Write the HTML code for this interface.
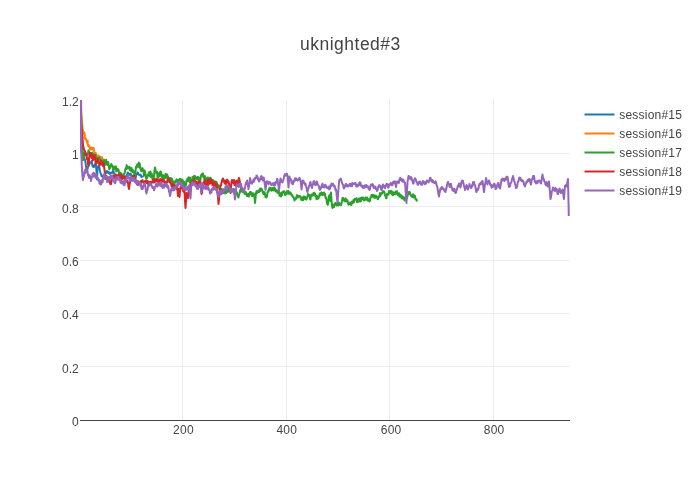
<!DOCTYPE html>
<html><head><meta charset="utf-8"><title>uknighted#3</title>
<style>
html,body{margin:0;padding:0;background:#fff;}
body{width:700px;height:500px;overflow:hidden;font-family:"Liberation Sans",sans-serif;}
svg{display:block;will-change:transform;}
text{font-family:"Liberation Sans",sans-serif;fill:#444;}
.g{fill:#eee;shape-rendering:crispEdges;}
.t{font-size:12px;}
.l{fill:none;stroke-width:2;stroke-linejoin:round;stroke-linecap:butt;}
</style></head><body>
<svg width="700" height="500" viewBox="0 0 700 500">
<rect width="700" height="500" fill="#fff"/>
<defs><clipPath id="cp"><rect x="80" y="100" width="490" height="320"/></clipPath></defs>
<!-- gridlines -->
<g class="g">
<rect x="182" y="100" width="1" height="320"/>
<rect x="286" y="100" width="1" height="320"/>
<rect x="389" y="100" width="1" height="320"/>
<rect x="493" y="100" width="1" height="320"/>
<rect x="80" y="153" width="490" height="1"/>
<rect x="80" y="206" width="490" height="1"/>
<rect x="80" y="260" width="490" height="1"/>
<rect x="80" y="313" width="490" height="1"/>
<rect x="80" y="366" width="490" height="1"/>
</g>
<!-- zero line -->
<rect x="80" y="420" width="490" height="1" fill="#444" shape-rendering="crispEdges"/>
<!-- traces -->
<g id="traces" clip-path="url(#cp)">
<!--TRACES-->
<path class="l" stroke="#1f77b4" d="M80.4,60L81.3,150L82.5,160L83,159.67L83.5,157.44L84,157.5L84.5,159.47L85,160L85.5,162.6L86,166L86.5,167.98L87,169.5L87.5,169.15L88,167L88.6,165.5L89.05,163.91L89.5,164L90,162.6L90.5,162.5L91,162.27L91.5,161L92,163.05L92.5,166L92.9,166.1L93.3,167L93.9,166.91L94.5,165L94.93,164.17L95.37,164.72L95.8,164L96.5,171L97,179.5L97.6,167L98.07,167.27L98.53,165.84L99,166L99.5,168.26L100,171L100.5,172.76L101,174L101.5,176.05L102,176.5L102.5,176.06L103,177L103.5,175.38L104,175.5L104.43,175.24L104.87,173.44L105.3,173.5L105.8,173.58L106.3,172L106.8,170.98L107.3,171.5L107.75,172.74L108.2,173L108.6,171.97L109,172.5L109.5,173.84L110,174L110.5,173.32L111,172.6L111.5,173L111.9,173.17L112.3,172.5L113,170.5L113.4,170.83L113.8,172.5L114.5,174L115,175.34L115.5,175.1L116,176.5L116.5,176.82L117,175.44L117.5,175.41L118,175.5L118.6,176.03L119.2,175L119.6,173.5L120,173L120.5,173.7L121,175.5L121.6,174L122.05,176.34L122.5,178L123,176.96L123.5,176.79L124,177L124.5,177.45L125,176.32L125.5,177.37L126,176.5L126.6,175.91L127.2,174L127.6,172.55L128,172.5L128.5,174.42L129,175L129.5,173.95L130,174.32L130.5,173.5L131,174.72L131.5,176.5L132,176.23L132.5,177L133,177.2L133.5,176.5L134,176.47L134.5,178.06L135,177.7L135.5,178.5L136,176.07L136.5,174L137,173.91L137.5,172.5L138,172.87L138.5,174.5L139.2,175L139.75,175.15L140.3,174.5L140.8,175.18L141.3,177L141.75,176.46L142.2,176.5L142.6,176.4L143,177.5"/>
<path class="l" stroke="#ff7f0e" d="M80.5,60L81.25,113L82.2,124.5L82.8,130L83.5,133L83.9,133.87L84.3,132.5L84.9,135.5L84.4,138L84.85,138.01L85.3,139L85.75,138.23L86.2,139.5L86.8,142L87.3,142.39L87.8,141L87.4,144L87.8,144.15L88.2,146L88.7,146.57L89.2,145.5L89.8,148L90.3,149.46L90.8,149.5L91.3,147.61L91.8,147.5L92.3,149.53L92.8,149.5L93.2,148.05L93.6,148L94.3,151.5L95,153.5L95.4,153.69L95.8,153L96.2,154.85L96.6,156L97.05,156.11L97.5,157.5L97.9,157.23L98.3,155.5L99,157.5L99.5,156.46L100,156.5L100.5,156.91L101,158.5L101.5,157.3L102,157.5L102.5,159.54L103,160L103.5,160.66L104,159.5L104.5,161"/>
<path class="l" stroke="#2ca02c" d="M80.4,60L81.2,130L82.2,148L82.8,160L83.5,158L84,155.62L84.5,152L85,151.25L85.5,155.09L86,154L86.4,155.91L86.8,156L87.4,153.27L88,153L88.5,150.31L89,152L89.5,155.3L90,152.97L90.5,156L91,153.32L91.5,155.53L92,153L92.5,152.63L93,153.86L93.5,157L94,157.72L94.5,157.92L95,155.5L95.5,154.95L96,159.54L96.5,159L97,157.86L97.5,160.69L98,159.5L98.5,157.75L99,158.78L99.5,157.91L100,160L100.5,163.02L101,159.98L101.5,162.8L101.97,164.35L102.43,160.68L102.9,162.6L103.43,164.73L103.95,160.21L104.47,164.69L105,162.6L105.53,164.77L106.05,159.77L106.57,164.13L107.1,161.8L107.6,164.96L108.1,162.08L108.6,164.4L109.3,169.4L109.77,165.91L110.23,168.13L110.7,165.8L111.25,163.99L111.8,165.4L112.35,165.23L112.9,167.9L113.37,169.8L113.83,169.05L114.3,166.8L114.85,169.02L115.4,167.2L115.87,166.29L116.33,171.56L116.8,171.2L117.27,169.53L117.73,168.85L118.2,170.4L118.67,170L119.13,173.88L119.6,172.9L120.1,174.5L120.6,172.72L121.1,174.7L121.7,177.96L122.3,175.26L122.9,177.9L123.37,177.41L123.83,174.25L124.3,173.7L124.77,173.01L125.23,169.35L125.7,168.3L126.17,169.07L126.63,165.12L127.1,166.9L127.7,168.55L128.3,168.36L128.9,166.9L129.4,166.68L129.9,170.05L130.4,169L130.87,170.96L131.33,167.67L131.8,169.7L132.27,172.03L132.73,169.79L133.2,171.2L133.8,171.2L134.4,175.94L135,176.5L135.55,170.68L136.1,166.5L136.7,167.38L137.3,164.22L137.9,165.1L138.37,166.86L138.83,162.49L139.3,165.1L139.77,163.8L140.23,168.73L140.7,167.9L141.17,171.28L141.63,170.9L142.1,170.1L142.6,168.22L143.1,170.47L143.6,171.8L144.07,175.57L144.53,170.29L145,172.1L145.6,174.38L146.2,178.8L146.8,178.6L147.4,176.6L148,174.63L148.6,174.3L149.07,172.29L149.53,175.92L150,173L150.5,171.6L151,176.89L151.5,173.5L152,174.25L152.5,179.28L153,176.13L153.5,178L154,176.44L154.5,170.64L155,167.5L155.5,169.42L156,172.82L156.5,172L157,171.87L157.5,177.22L158,177.65L158.5,175L159,173.14L159.5,176.42L160,172.69L160.5,171.48L161,172L161.5,175.91L162,177.65L162.5,177L163,175.08L163.5,180.12L164,176.11L164.5,176L165,178.02L165.5,174.03L166,177.67L166.5,174.5L167,174.28L167.5,178.83L168,176.3L168.5,180.79L169,179L169.5,181.65L170,177.95L170.5,178L171,182.61L171.5,178.55L172,178.87L172.5,182L173,183.67L173.5,181.47L174,185.28L174.5,184L175,181.14L175.5,181.82L176,181.21L176.5,179.33L177,181.5L177.5,182.72L178,179.91L178.5,183.15L179,181.5L179.5,179.1L180,182.14L180.5,179.1L181,180L181.5,182.73L182,179.8L182.5,179.83L183,182L183.5,185.33L184,181.64L184.5,186.76L185,186L185.5,182.89L186,185.24L186.5,180.45L187,181L187.5,178.46L188,180.93L188.5,177.38L189,178.5L189.5,181.8L190,177.51L190.5,182.23L191,181.5L191.5,179.5L192,182.11L192.5,176.94L193,178.5L193.5,180.09L194,176.03L194.5,177.69L195,176L195.5,178.47L196,177.6L196.5,179.04L197,177.89L197.5,177L198,176.89L198.5,181.36L199,177.83L199.5,181.5L200,181.15L200.5,179.62L201,175.92L201.5,174.4L202,174L202.5,175.74L203,173.36L203.5,177.26L204,176.5L204.5,178.76L205,176.11L205.5,180.68L206,180L206.5,178.42L207,180.99L207.5,177.39L208,181.83L208.5,181.68L209,177.67L209.5,181.24L210,179.5L210.5,177.74L211,179.4L211.5,183.27L212,181.5L212.5,180.02L213,182.91L213.5,180.58L214,183.28L214.5,182L215,184.29L215.5,181.47L216,184.69L216.5,181.88L217,184L217.5,185.96L218,187.06L218.5,185.12L219,187L219.5,189.08L220,187.42L220.5,190.77L221,190L221.5,188.84L222,192.62L222.5,189.5L223,193.32L223.5,189.85L224,192L224.5,193.29L225,192.82L225.5,189.79L226,193.26L226.5,192.25L227,191L227.5,189.43L228,191.9L228.5,188.36L229,189L229.5,190.71L230,188.29L230.5,189.57L231,191L231.5,191.91L232,189L232.5,191.06L233,190L233.5,189.19L234,192.04L234.5,189.59L235,192L235.5,193.66L236,193.59L236.5,191.85L237,193L237.5,195.4L238,196.92L238.5,197.5L239,194.52L239.5,193.71L240,191L240.5,189.27L241,191.54L241.5,188.43L242,190L242.5,191.84L243,192.3L243.5,189.95L244,192L244.5,193.63L245,193.96L245.5,191.81L246,193L246.5,195.07L247,195.98L247.5,195.91L248,193.99L248.5,196L249,196.46L249.5,192.91L250,192.18L250.5,192L251,194.58L251.5,192.44L252,196.04L252.5,196L253,193.62L253.5,193.36L254,194L254.5,197.7L255,203L255.5,198.55L256,193L256.5,191.26L257,193.33L257.5,190.94L258,192.25L258.5,191L259,192.2L259.5,189.26L260,188.6L260.5,191.04L261,189L261.5,188.61L262,189.82L262.5,190.68L263,193L263.5,194.21L264,191.9L264.5,192.12L265,194L265.5,196.96L266,194.98L266.5,197.5L267,196.05L267.5,192.42L268,191L268.5,191.69L269,189L269.5,187.72L270,189.99L270.5,187.91L271,189.5L271.5,190.73L272,188.38L272.5,190.03L273,187.72L273.5,190.44L274,189L274.5,187.78L275,188.39L275.5,191.29L276,190.01L276.5,191.5L277,190.42L277.5,193.09L278,190.75L278.5,192.5L279,191.57L279.5,195.76L280,193.2L280.5,195.5L281,196.5L281.5,192.57L282,195.19L282.5,193L283,191.65L283.5,191.18L284,191.5L284.5,191.59L285,195L285.5,194.5L286,192.68L286.5,194.32L287,191.06L287.5,192L288,193.18L288.5,190.97L289,193.89L289.5,193L290,192.23L290.5,193.51L291,193.28L291.5,195.5L292,194.76L292.5,195.54L293,197L293.5,196.99L294,198.57L294.5,200.5L295,198.58L295.5,199.3L296,198.73L296.5,196.5L297,195.12L297.5,195.57L298,197.64L298.5,197L299,196.15L299.5,196L300,195.96L300.5,197.5L301,198.87L301.5,200.03L302,197.4L302.5,199.5L303,200.26L303.5,196.49L304,196.5L304.5,198.88L305,196.89L305.5,197.27L306,199.5L306.5,199.51L307,197.52L307.5,196.29L308,194L308.5,196.04L309,194.78L309.5,195.95L310,199L310.5,199.49L311,194.99L311.5,194.56L312,194.5L312.5,195.77L313,194.55L313.5,193L314,192.89L314.5,195.6L315,193.5L315.5,196L316,195.29L316.5,199.31L317,198.5L317.5,196.26L318,198.69L318.5,198.59L319,196.5L319.5,194.6L320,193.23L320.5,195.39L321,193L321.5,192.4L322,192.82L322.5,195L323,192.92L323.5,194.81L324,192.5L324.5,194.74L325,193.57L325.5,197.94L326,197.5L326.5,199.39L327,203L327.5,204.85L328,204.5L328.7,197.5L329.1,195.85L329.5,195L329.9,198.89L330.3,201L331,192.5L331.7,203L332.1,206.18L332.5,208L333.2,204.5L333.6,206.16L334,207L334.5,204.75L335,203.5L335.5,202.85L336,204L336.5,205.5L337,205.23L337.5,203.4L338,204.5L338.5,205.36L339,202.44L339.5,203.5L340,204.82L340.5,204.42L341,205.13L341.5,203.5L342,201.13L342.5,198L343,197.89L343.5,200.49L344,200.5L344.5,199.28L345,201.4L345.5,198.19L346,199.5L346.5,201.48L347,200.03L347.5,200.48L348,203L348.5,204.79L349,204.65L349.5,203.5L350,202.47L350.5,203.39L351,205L351.5,204.81L352,201.47L352.5,202L353,202.94L353.5,200.04L354,202.32L354.5,200L355,198.63L355.5,198.7L356,199.5L356.5,198.25L357,202.19L357.5,201L358,199.35L358.5,201.82L359,198.48L359.5,200L360,201.52L360.5,197.92L361,201.07L361.5,199L362,197.45L362.5,198.93L363,197.5L363.5,199.76L364,200.5L364.5,198.58L365,200.02L365.5,197.59L366,198L366.5,199.61L367,197.45L367.5,199.5L368,200.84L368.5,199.32L369,200.1L369.5,201.5L370,200.62L370.5,197.35L371,197.19L371.5,195L372,196.57L372.5,194.7L373,196.5L373.5,197.46L374,195.13L374.5,196L375,198.03L375.5,195.61L376,197L376.5,196.06L377,197.46L377.5,199L378,199.31L378.5,197.78L379,196L379.5,196.95L380,192.95L380.5,195.92L381,193.5L381.5,193.93L382,193.7L382.5,192L383,191.05L383.5,192.5L384,191.5L384.5,192.63L385,195.34L385.5,195.99L386,198L386.5,198.25L387,193.94L387.5,194.5L388,194.75L388.5,194.56L389,190.97L389.5,191.5L390,193.08L390.5,191.09L391,190.82L391.5,192.5L392,194.59L392.5,191.79L393,195.24L393.5,194L394,192.44L394.5,194.17L395,194.35L395.5,192.5L396,191.3L396.5,193.86L397,191.27L397.5,193L398,195.28L398.5,195.07L399,193.32L399.5,196.63L400,195.5L400.5,194.6L401,195.14L401.5,198.26L402,197.5L402.5,196.25L403,198.84L403.5,197.12L404,198.5L404.5,200.46L405,197.57L405.5,197.52L406,199.5L406.5,197.19L407,198.24L407.5,196L408,192.9L408.5,194.41L409,192L409.5,191.8L410,192.66L410.5,194.5L411,195.69L411.5,196.2L412,196.93L412.5,196L413,194.23L413.5,197.37L414,196.66L414.5,195.5L415,196.03L415.5,199.42L416,199.5L416.5,199.18L417,201.5"/>
<path class="l" stroke="#d62728" d="M80.4,60L81.2,122L81.8,130L82.4,137L83,145L84,149.5L85,151.5L85.6,155L86.2,154L86.8,159L87.4,158L88,164L88.6,166L89.2,158L89.8,152.5L90.4,156L91,153.5L91.6,158L92.2,155L92.8,160.5L93.4,159L94,157L94.6,155L95.2,160L95.8,164L96.4,161L97,162.5L97.6,159L98.2,163L98.8,161.5L99.4,165.5L100,163.5L100.6,164.5L101.2,161L101.8,164.5L102.4,163L103,166L103.6,162.5L104.2,168L104.7,171L105.2,179L106.5,176L107,177.85L107.5,178.72L108,178L108.5,179.62L109,177.29L109.5,180L110,183.17L110.5,184.2L111,184L111.5,181.47L112,179.44L112.5,178L113,179.55L113.5,175.49L114,177L114.5,175.66L115,178.49L115.5,174.71L116,176.5L116.5,174.68L117,177.44L117.5,177.14L118,175.5L118.5,177.57L119,174.28L119.5,177.78L120,176L120.5,174.76L121,178.66L121.5,176.36L122,178.5L122.5,179.11L123,176L123.5,176.53L124,177L124.5,178.61L125,176.67L125.5,180.45L126,179L126.5,180.92L127,181.84L127.5,181L128,183.08L128.5,186.9L129,189L129.5,185.1L130,182.58L130.5,180L131,177.37L131.5,179.03L132,177L132.5,175.88L133,177.47L133.5,176.5L134,175.62L134.5,179.82L135,178.36L135.5,180L136,182.82L136.5,180.8L137,184.43L137.5,182.94L138,185L138.5,182.78L139,181.85L139.5,182L140,182.76L140.5,182.11L141,181L141.5,182.83L142,180.46L142.5,179.96L143,182L143.5,182.69L144,182.28L144.5,182.7L145,181L145.5,182.13L146,180.77L146.5,182.97L147,182.5L147.5,181.05L148,184.42L148.5,181.79L149,183.58L149.5,181.95L150,183L150.5,184.28L151,181.67L151.5,183.05L152,182.74L152.5,181.5L153,180.46L153.5,179.44L154,182.63L154.5,179.07L155,180.5L155.5,181.76L156,178.8L156.5,178.84L157,179.5L157.5,181.62L158,179.47L158.5,182.51L159,181.5L159.5,179.48L160,181.85L160.5,179.04L161,179.5L161.5,181.53L162,181.92L162.5,179.27L163,181L163.5,180.01L164,180.54L164.5,183.54L165,184.72L165.5,184L166,181.58L166.5,182.89L167,182.6L167.5,181.55L168,179L168.5,181L169,178.41L169.5,182.11L170,181L170.5,183.38L171,183.5L171.5,186L172,187.13L172.5,184.98L173,184.21L173.5,185.5L174,187.38L174.5,184.82L175,187.55L175.5,186L176.1,185.86L176.7,189.14L177.3,188L178,196L178.7,189L179.1,193.77L179.5,197L180,191.06L180.5,187L181,188.43L181.5,185.34L182,186.71L182.5,188L183,190.86L183.5,187.99L184,192.24L184.5,191L185,200.59L185.5,208L186,201.19L186.5,193L187,193.88L187.5,196.94L188,198L188.5,192.37L189,188L189.5,185.25L190,187.84L190.5,182.89L191,184L191.5,182.23L192,185.31L192.5,181.43L193,183L193.5,181.29L194,184.15L194.5,179.57L195,182L195.5,184.71L196,181.37L196.5,185.38L197,182.39L197.5,186.91L198,185L198.5,182.57L199,181.42L199.5,185.39L200,183.84L200.5,182L201,189.22L201.5,194L202,192.62L202.5,187.64L203,186L203.5,184.89L204,182.54L204.5,179.5L205,181.06L205.5,184L206,185.3L206.5,182.2L207,183L207.5,180.23L208,185.15L208.5,179.98L209,182.5L209.5,180.08L210,183.78L210.5,179.05L211,181L211.5,183.03L212,180.31L212.5,185.34L213,184L213.5,182.55L214,185.99L214.5,181.83L215,184.5L215.5,186.71L216,187.36L216.5,183.68L217,187L217.5,193.53L218,197.13L218.5,204L219,199.54L219.5,194.02L220,188L220.5,185.23L221,185.5L221.5,183L222,180.46L222.5,179.41L223,178.5L223.5,181.33L224,180.48L224.5,183L225,183.72L225.5,180.57L226,184.01L226.5,181L227,179.81L227.5,179.7L228,182.71L228.5,181.5L229,183.29L229.5,188.56L230,189.17L230.5,193L231,186.64L231.5,181.5L232,179.92L232.5,180.33L233,183.03L233.5,181.5L234,180.06L234.5,185.12L235,181.28L235.5,184.5L236,185.71L236.5,180.78L237,184.12L237.5,181.5L238,183.54L238.5,179.58L239,177.91L239.5,180L240,182.84L240.5,184L241,185.28L241.5,189"/>
<path class="l" stroke="#9467bd" d="M80.4,60L80.8,100L81.2,150L82,170L82.5,176.17L83,180L83.5,176.19L84,176.26L84.5,171.88L85,170L85.5,173.17L86,167.91L86.5,171L87,170.02L87.5,170.9L88,175.17L88.5,175L89,177.82L89.5,174.96L90,176.12L90.5,177.64L91,181L91.5,178.11L92,177.06L92.5,174L93,176.84L93.5,172.68L94,176.35L94.5,174.5L95,173.59L95.5,177.69L96,176L96.5,174L97,178.64L97.5,178.79L98,178L98.5,180.9L99,179.7L99.5,183.7L100,183.5L100.5,181L101,184.62L101.5,180.79L102,180.18L102.5,182.5L103,178.92L103.5,178.02L104,175L104.5,173.94L105,177.01L105.5,177.77L106,177L106.5,176.97L107,181.86L107.5,179.26L108,182L108.5,181.21L109,178.1L109.5,177L110,179L110.5,175.73L111,177.72L111.5,176.5L112,175.55L112.5,179.69L113,177.4L113.5,180L114,181.89L114.5,182.05L115,183.4L115.5,182L116,179.59L116.5,177.2L117,179.74L117.5,177L118,179.34L118.5,176.66L119,179.79L119.5,178.44L120,180L120.5,182.63L121,183.06L121.5,180L122,183.38L122.5,181.82L123,183.5L123.5,184.66L124,181.03L124.5,185.31L125,183L125.5,180.35L126,182.26L126.5,178.22L127,178.5L127.5,176.07L128,175L128.5,177.73L129,177.58L129.5,180L130,180.78L130.5,177.73L131,180.72L131.5,177.35L132,179L132.5,180.9L133,178.09L133.5,180.81L134,177.98L134.5,180L135,181.88L135.5,179.67L136,182L136.5,183.02L137,181.18L137.5,183.91L138,181.03L138.5,184.1L139,183L139.5,181.76L140,184L140.5,186.26L141,184.11L141.5,189.02L142,186.55L142.5,189L143,188.01L143.5,185.02L144,185.33L144.5,183L145,184.78L145.5,187.37L146,191.68L146.5,193.5L147,190.6L147.5,190.03L148,186.71L148.5,185L149,183.55L149.5,185.81L150,183.08L150.5,184.5L151,184.02L151.5,185.39L152,185.96L152.5,188L153,187.23L153.5,187.16L154,190.26L154.5,189L155,186.8L155.5,186.06L156,184L156.5,183.73L157,186.58L157.5,186.5L158,184.69L158.5,183.81L159,183.29L159.5,185.55L160,183.5L160.5,182.28L161,186.21L161.5,183.81L162,184.05L162.5,187.87L163,186.5L163.5,184.74L164,187.69L164.5,186.49L165,183.84L165.5,185L166,183.72L166.5,186.59L167,184.58L167.5,187.66L168,186L168.5,187.58L169,191.71L169.5,192.57L170,196L170.5,194.11L171,190.07L171.5,188.5L172,189.87L172.5,188.21L173,190.64L173.5,188.08L174,190L174.5,189.76L175,186.95L175.5,188.62L176,187.04L176.5,185L177,186.59L177.5,183.08L178,185.71L178.5,184L179,182.06L179.5,181.67L180,184.2L180.5,182.5L181,182.6L181.5,186.08L182,186L182.5,184.95L183,187.77L183.5,186.27L184,189.71L184.5,188.5L185,187.88L185.5,189.95L186,187.37L186.5,189L187,189.65L187.5,186.65L188,188.86L188.5,187.65L189,186L189.5,189.77L190,195.07L190.5,198.5L191,190.23L191.5,183L192,184.91L192.5,184.64L193,182.34L193.5,184.69L194,184L194.5,182.65L195,183.53L195.5,186.32L196,185L196.5,185.25L197,188.77L197.5,186.53L198,189L198.5,186.13L199,185.09L199.5,186.73L200,184L200.5,187.18L201,188.9L201.5,192L202,188.08L202.5,183L203,185.52L203.5,187.08L204,188.5L204.5,187.34L205,186.43L205.5,189.02L206,187L206.5,188.37L207,186.05L207.5,189.31L208,187.03L208.5,188L209,190.24L209.5,189.51L210,193.42L210.5,193.5L211,191.39L211.5,192.23L212,188.87L212.5,189L213,187.67L213.5,189.73L214,189.33L214.5,187.5L215,187.08L215.5,189.05L216,189.96L216.5,189L217,191.81L217.5,192.48L218,195.37L218.5,197L219,194.62L219.5,192.15L220,191L220.5,192.77L221,194.39L221.5,193.5L222,191.24L222.5,190.74L223,192.35L223.5,189.36L224,190L224.5,190.35L225,190.07L225.5,186.21L226,187L226.5,188.34L227,185.18L227.5,187.72L228,186L228.5,186.2L229,187.09L229.5,187.37L230,190L230.5,191.74L231,191.69L231.5,189.41L232,191L232.5,191.51L233,190.52L233.5,189L234,193.04L234.5,195.19L235,199.5L235.5,194.19L236,190.26L236.5,185L237,184.31L237.5,186.23L238,184.67L238.5,186L239,186.91L239.5,183.82L240,185.31L240.5,184L241,184.01L241.5,187.45L242,187.9L242.5,188L243,190.26L243.5,191.77L244,192L244.5,189.13L245,187.92L245.5,185L246,182.78L246.5,182.43L247,180.5L247.5,184.03L248,185.49L248.5,189L249,186.18L249.5,182.04L250,178L250.5,179.94L251,183L251.5,181.5L252,183.72L252.5,181.46L253,182L253.5,179.38L254,181.65L254.5,179.94L255,178L255.5,178.6L256,177.95L256.5,175.5L257,176L257.5,176.65L258,179.62L258.5,179.02L259,181.5L259.5,181.02L260,178.2L260.5,179.38L261,176.5L261.5,176.1L262,178.13L262.5,180L263,180.52L263.5,177.59L264,178L264.5,182.72L265,185.5L265.5,190L266,186.52L266.5,181.5L267,182.64L267.5,181.39L268,182.5L268.5,184.23L269,182.08L269.5,182.16L270,182.31L270.5,183.5L271,184.53L271.5,185.14L272,184.89L272.5,183.36L273,184.5L273.5,183.41L274,185.59L274.5,182.78L275,185.39L275.5,184L276,181.74L276.5,182.7L277,178.99L277.5,179L278,183.26L278.5,186.19L279,190.5L279.5,186.17L280,182.08L280.5,178.5L281,180.36L281.5,181.8L282,180.87L282.5,182.5L283,180.39L283.5,179.69L284,176.67L284.5,175.5L285,174.13L285.5,175.65L286,175.51L286.5,174L287,173.74L287.5,176L288,181.21L288.5,187.5L289,181.38L289.5,176.5L290,179.2L290.5,179L291,179.54L291.5,182.93L292,181.76L292.5,184L293,184.2L293.5,180.72L294,181.84L294.5,180.94L295,178.5L295.5,178.23L296,179.88L296.5,178.59L297,180L297.5,180.58L298,180.1L298.5,179.98L299,178.5L299.5,177.89L300,178.91L300.5,180.5L301,184.26L301.5,189.5L302,185.93L302.5,181L303,180.54L303.5,180.65L304,183.14L304.5,183L305,184.69L305.5,183.59L306,186L306.5,187.34L307,190.61L307.5,192L308,189.42L308.5,188.47L309,186L309.5,185.73L310,182.57L310.5,182L311,184.44L311.5,186.44L312,188L312.5,185.32L313,184.15L313.5,181.5L314,181.04L314.5,184.48L315,183.04L315.5,185L316,184.76L316.5,181.45L317,181.5L317.5,183.69L318,184.85L318.5,185.5L319,186.44L319.5,189.12L320,190L320.5,187.19L321,188.5L321.5,187.15L322,184.5L322.5,183.66L323,186.97L323.5,185.11L324,187L324.5,187.54L325,185.09L325.5,184.77L326,186L326.5,187.33L327,187.7L327.5,188.31L328,187.5L328.5,186.58L329,189.45L329.5,189L330,188.84L330.5,185.01L331,186.27L331.5,183.5L332,184.87L332.5,184.5L333,183.84L333.5,186.25L334,186L334.5,185.59L335,187.09L335.5,189.97L336,189.5L336.5,193.21L337,198.66L337.5,202.5L338,194.96L338.5,189.26L339,182L339.5,179.78L340,179.87L340.5,178.64L341,179L341.5,181.05L342,182.9L342.5,184L343,184.89L343.5,187.33L344,188.5L344.5,185.82L345,186.72L345.5,184.5L346,183.82L346.5,186.31L347,184.64L347.5,186.5L348,186.56L348.5,185.99L349,185.36L349.5,184L350,183.68L350.5,186.01L351,183.8L351.5,185.5L352,186.26L352.5,183.01L353,183.5L353.5,184.07L354,183.91L354.5,184.06L355,183L355.5,182.96L356,186.01L356.5,186.5L357,185.04L357.5,186.45L358,184.44L358.5,185L359,185.38L359.5,182.22L360,183L360.5,182.59L361,185.61L361.5,186.65L362,186.5L362.5,185.57L363,188.11L363.5,187.5L364,185.95L364.5,187.81L365,185.14L365.5,185.5L366,186.99L366.5,185.11L367,186.69L367.5,186L368,186.34L368.5,188.69L369,187.52L369.5,190L370,188.64L370.5,185.99L371,184.5L371.5,185.66L372,185.45L372.5,184L373,184.72L373.5,187.68L374,188L374.5,186.6L375,186.54L375.5,187L376,189.33L376.5,188.99L377,191L377.5,190.23L378,187.47L378.5,186.5L379,185.22L379.5,186.82L380,185.5L380.5,186.3L381,189.08L381.5,190L382,188.48L382.5,185.85L383,184.5L383.5,187.01L384,185.89L384.5,188L385,188.28L385.5,185.27L386,185.98L386.5,184L387,183.68L387.5,185.36L388,187.5L388.5,187.65L389,184.55L389.5,184.12L390,184L390.5,184.79L391,182.85L391.5,185.15L392,184.5L392.5,185.18L393,182.03L393.5,182.5L394,181.36L394.5,183.27L395,181.5L395.5,184.63L396,187L396.5,183.83L397,181.5L397.5,182.77L398,181.43L398.5,182.5L399,182.85L399.5,179.57L400,177.95L400.5,178L401,179.93L401.5,178.88L402,181L402.5,181.48L403,179.5L403.5,180L404,182.09L404.5,182.7L405,182.5L405.5,189.03L406,196.65L406.5,203L407,191.93L407.5,182L408,179.32L408.5,176L409,176.2L409.5,178.58L410,178.5L410.5,179.2L411,176.98L411.5,178L412,180.3L412.5,181.05L413,183.5L413.5,183.62L414,179.96L414.5,179.5L415,178.23L415.5,178.83L416,180L416.5,182.04L417,182.29L417.5,184.5L418,184.84L418.5,182.28L419,183.29L419.5,181.5L420,181.47L420.5,183.65L421,184.66L421.5,184.5L422,184.8L422.5,181.32L423,181L423.5,183.26L424,181.66L424.5,184L425,184.32L425.5,181.93L426,183.51L426.5,181.5L427,180.35L427.5,181.28L428,180.99L428.5,182.5L429,181.3L429.5,180.17L430,178L430.5,177.79L431,179.21L431.5,181.5L432,179.92L432.5,181.98L433,180.5L433.5,182.78L434,182.82L434.5,183L435,181.99L435.5,181.32L436,182L436.5,184.7L437,185.67L437.5,188L438,191.51L438.5,194.3L439,196.5L439.5,193.4L440,190.53L440.5,188.5L441,189.66L441.5,187.26L442,186.92L442.5,187.5L443,188.78L443.5,189.41L444,189L444.5,190.98L445,189.82L445.5,192L446,189.31L446.5,187.94L447,185L447.5,182.94L448,182L448.5,183.86L449,184.48L449.5,186.5L450,187.07L450.5,183.64L451,184L451.5,186.82L452,187.9L452.5,190.5L453,189.17L453.5,190.9L454,189L454.5,188.71L455,192.21L455.5,192.91L456,192.5L456.5,190.32L457,189.51L457.5,187L458,185.61L458.5,186.44L459,183.5L459.5,184L460,186.23L460.5,187.5L461,184.41L461.5,182L462,180.43L462.5,182.71L463,181L463.5,183.68L464,186.22L464.5,187.05L465,190L465.5,188.68L466,186.27L466.5,185L467,185.95L467.5,188.35L468,189.5L468.5,186.95L469,186.34L469.5,184L470,186.16L470.5,186.83L471,188.11L471.5,187.5L472,185.13L472.5,185.84L473,182.39L473.5,182L474,181.94L474.5,184.94L475,185L475.5,187.29L476,191L476.5,192.08L477,189.78L477.5,188.81L478,190L478.5,188.5L479,185.44L479.5,184L480,184.69L480.5,182.84L481,183.5L481.5,183.95L482,181.11L482.5,181L483,184.06L483.5,188.68L484,192L484.5,188.14L485,184.66L485.5,182.08L486,178L486.5,179.79L487,182.68L487.5,184.5L488,182.34L488.5,182.48L489,180.5L489.5,181.65L490,183.95L490.5,185L491,184.5L491.5,187.72L492,187L492.5,185.4L493,186.88L493.5,185.72L494,184L494.5,183.78L495,185.31L495.5,189L496,189L496.5,188.22L497,185.32L497.5,184.99L498,183L498.5,183.17L499,187L499.5,185.89L500,188.5L500.5,186.16L501,183.02L501.5,179.5L502,180.93L502.5,178.4L503,178.8L503.5,180L504,180.46L504.5,180.97L505,178.44L505.5,179L506,179.68L506.5,176.82L507,176.66L507.5,177L508,179.74L508.5,184.3L509,187L509.5,185.01L510,186.26L510.5,182.87L511,183L511.5,181.75L512,179.17L512.5,178.43L513,176L513.5,178.16L514,180.31L514.5,181.5L515,184.17L515.5,185.17L516,188L516.5,187.73L517,186.64L517.5,184L518,181.8L518.5,181.32L519,178.44L519.5,177.5L520,179.12L520.5,178.01L521,180.5L521.5,179.97L522,181.44L522.5,180.2L523,181L523.5,181.77L524,184.62L524.5,184.18L525,186.5L525.5,184.11L526,183.77L526.5,181.5L527,182.29L527.5,180.2L528,181L528.5,179.33L529,180.89L529.5,179L530,180.23L530.5,183.36L531,184.5L531.5,181.1L532,179L532.5,179.44L533,176.11L533.5,177.75L534,176L534.5,179.45L535,182L535.5,181.12L536,183.44L536.5,183L537,181.27L537.5,182.93L538,180.95L538.5,181.5L539,180.48L539.5,180.44L540,181L540.5,182.94L541,183.5L541.5,181.05L542,176.83L542.5,174.5L543,177.05L543.5,178.53L544,180L544.5,181.83L545,182.36L545.5,184.5L546,185.32L546.5,182.08L547,183L547.5,185.29L548,186.5L548.5,184.49L549,181.5L549.5,186.67L550,192.74L550.5,199L551,196.58L551.5,193.5L552,191.1L552.5,190.07L553,187.5L553.5,189.75L554,188.61L554.5,190.5L555,191.13L555.5,187.96L556,188.5L556.5,188.81L557,190.08L557.5,193.79L558,194L558.5,192.7L559,189.84L559.5,188.5L560,189.58L560.5,191.83L561,193L561.5,191.02L562,191.35L562.5,189.5L563,191.95L563.5,196.18L564,199L564.5,191.78L565,186L565.5,185.26L566,185.12L566.5,186.5L567,184.34L567.5,181.05L568,179L568.8,216"/>
<!--ENDTRACES-->
</g>
<!-- x ticks -->
<g class="t" text-anchor="middle" letter-spacing="0.25">
<text x="183.5" y="434">200</text>
<text x="286.8" y="434">400</text>
<text x="391.1" y="434">600</text>
<text x="494.1" y="434">800</text>
</g>
<!-- y ticks -->
<g class="t" text-anchor="end">
<text x="78.8" y="426">0</text>
<text x="78.8" y="373">0.2</text>
<text x="78.8" y="319">0.4</text>
<text x="78.8" y="266">0.6</text>
<text x="78.8" y="213">0.8</text>
<text x="78.8" y="159">1</text>
<text x="78.8" y="106">1.2</text>
</g>
<!-- title -->
<text x="350.4" y="49.6" text-anchor="middle" font-size="17.5" letter-spacing="0.5">uknighted#3</text>
<!-- legend -->
<g class="t">
<g stroke-width="2" fill="none">
<path d="M584.5,114.5H614.5" stroke="#1f77b4"/>
<path d="M584.5,133.5H614.5" stroke="#ff7f0e"/>
<path d="M584.5,152.5H614.5" stroke="#2ca02c"/>
<path d="M584.5,171.5H614.5" stroke="#d62728"/>
<path d="M584.5,190.5H614.5" stroke="#9467bd"/>
</g>
<text x="619.3" y="119" letter-spacing="0.2">session#15</text>
<text x="619.3" y="138" letter-spacing="0.2">session#16</text>
<text x="619.3" y="157" letter-spacing="0.2">session#17</text>
<text x="619.3" y="176" letter-spacing="0.2">session#18</text>
<text x="619.3" y="195" letter-spacing="0.2">session#19</text>
</g>
</svg>
</body></html>
